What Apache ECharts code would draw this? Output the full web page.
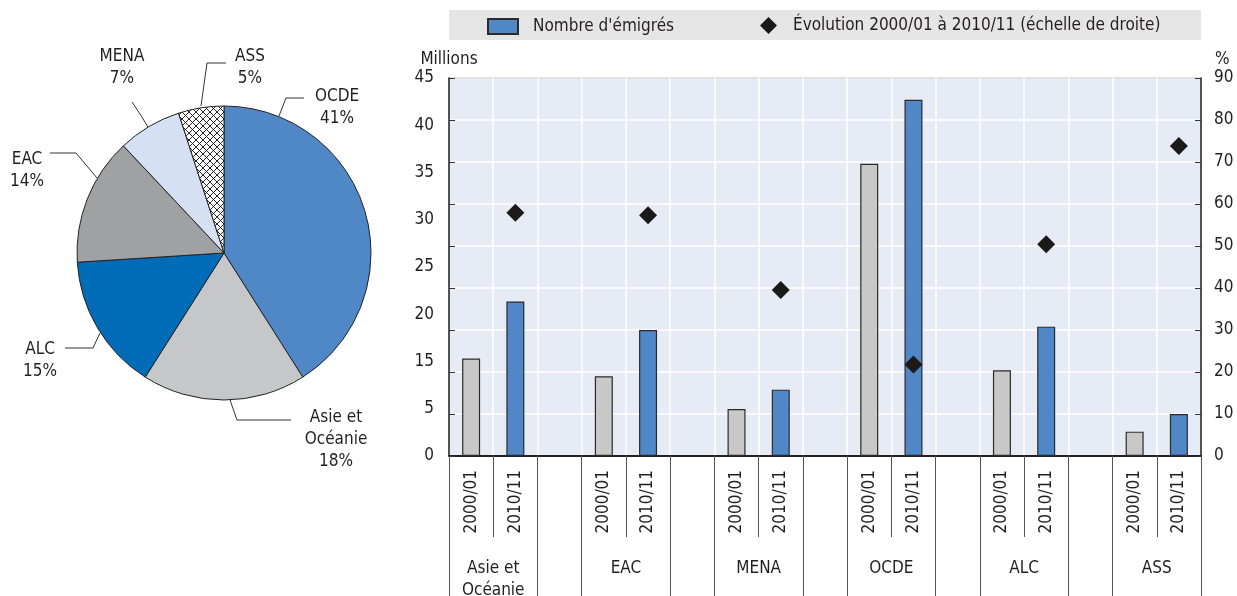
<!DOCTYPE html>
<html>
<head>
<meta charset="utf-8">
<script src="https://cdn.jsdelivr.net/npm/echarts@6/dist/echarts.min.js"></script>
<style>
html,body{margin:0;padding:0;background:#fff;}
#chart{width:1237px;height:596px;}
</style>
</head>
<body>
<div id="chart"></div>
<script>
// ---- data ----
const groups = ['Asie et Océanie', 'EAC', 'MENA', 'OCDE', 'ALC', 'ASS'];
const groupLabels = ['Asie et\nOcéanie', 'EAC', 'MENA', 'OCDE', 'ALC', 'ASS'];
const periods = ['2000/01', '2010/11'];
const emigres2000 = [11.6, 9.5, 5.6, 34.8, 10.2, 2.9];
const emigres2010 = [18.4, 15.0, 7.9, 42.4, 15.4, 5.0];
const evolution = [57.9, 57.3, 39.5, 21.8, 50.4, 73.8];
const leftTickLabels = ['0', '5', '15', '20', '25', '30', '35', '40', '45'];
const pieNames = ['OCDE', 'Asie et Océanie', 'ALC', 'EAC', 'MENA', 'ASS'];
const pieLabelText = ['OCDE', 'Asie et\nOcéanie', 'ALC', 'EAC', 'MENA', 'ASS'];
const pieShares = [41, 18, 15, 14, 7, 5];
const seriesNames = ["Nombre d'émigrés", 'Évolution 2000/01 à 2010/11 (échelle de droite)'];

// ---- styles / layout ----
const FONT = "'DejaVu Sans Condensed','Liberation Sans Narrow',sans-serif";
const FS = 17;
const TXT = '#231f20';
const BLUE = '#4f87c7';
const GREY = '#c8c8c8';
const pieColors = ['#4f87c7', '#c6c7c9', '#006bb6', '#a0a1a3', '#d5e0f2', null];
const pieLabelLayout = [
  { x: 337, y: 108, pts: [[279, 116], [286, 98], [304, 98]] },
  { x: 336, y: 440, pts: [[230, 400], [237, 420], [291, 420]] },
  { x: 40, y: 361, pts: [[100, 333], [93, 348], [65, 348]] },
  { x: 27, y: 171, pts: [[97, 178], [76, 153], [50, 153]] },
  { x: 122, y: 68, pts: [[148, 127], [140, 114], [132, 102]] },
  { x: 250, y: 68, pts: [[201, 106], [207, 63], [226, 63]] }
];

// hatch pattern
const hc = document.createElement('canvas');
hc.width = 7; hc.height = 7;
const hx = hc.getContext('2d');
hx.fillStyle = '#fff'; hx.fillRect(0, 0, 7, 7);
hx.strokeStyle = '#111'; hx.lineWidth = 0.9;
hx.beginPath(); hx.moveTo(-1, -1); hx.lineTo(8, 8); hx.moveTo(-1, 8); hx.lineTo(8, -1); hx.stroke();
const hatch = { image: hc, repeat: 'repeat' };

// ---- build ----
const slots = [], barData = [], dotData = [];
groups.forEach((g, i) => {
  slots.push(periods[0]); barData.push({ value: emigres2000[i], itemStyle: { color: GREY } }); dotData.push(null);
  slots.push(periods[1]); barData.push({ value: emigres2010[i] }); dotData.push(evolution[i]);
  if (i < groups.length - 1) { slots.push(''); barData.push(null); dotData.push(null); }
});
const halfSlots = [];
for (let k = 0; k <= slots.length * 2; k++) halfSlots.push('');
groups.forEach((g, i) => { halfSlots[6 * i + 2] = groupLabels[i]; });

const pieData = pieNames.map((n, i) => ({
  name: n, value: pieShares[i],
  itemStyle: { color: pieColors[i] || hatch }
}));

const chart = echarts.init(document.getElementById('chart'));
const option = {
  animation: false,
  textStyle: { fontFamily: FONT, color: TXT },
  graphic: [{ type: 'rect', left: 449, top: 10, shape: { width: 752, height: 30 }, style: { fill: '#e5e5e5' }, silent: true, z: -1 }],
  legend: [
    { data: [{ name: seriesNames[0], icon: 'rect' }], left: 487, top: 18, padding: 0, itemWidth: 30, itemHeight: 15,
      textStyle: { fontSize: FS, color: TXT, fontFamily: FONT, padding: [0, 0, 0, 10] } },
    { data: [seriesNames[1]], left: 760, top: 17, padding: 0, itemWidth: 17, itemHeight: 17,
      textStyle: { fontSize: FS, color: TXT, fontFamily: FONT, padding: [0, 0, 0, 11] } }
  ],
  grid: [
    { left: 449, right: 36, top: 78, bottom: 140, show: true, backgroundColor: '#e6ebf5', borderColor: '#222', borderWidth: 1 },
    { left: 449, right: 36, top: 537, height: 120, show: false }
  ],
  xAxis: [
    { type: 'category', gridIndex: 0, data: slots, boundaryGap: true,
      axisLine: { show: true, lineStyle: { color: '#222', width: 2 } },
      axisTick: { show: true, interval: 0, length: 81, lineStyle: { color: '#555', width: 1 } },
      axisLabel: { interval: 0, rotate: 90, margin: 14, fontSize: FS, color: TXT, fontFamily: FONT },
      splitLine: { show: true, interval: 0, lineStyle: { color: '#fff', width: 1.5 } }
    },
    { type: 'category', gridIndex: 1, data: halfSlots, boundaryGap: false, position: 'top',
      axisLine: { show: false }, axisTick: { show: false },
      axisLabel: { interval: 0, inside: true, margin: 21, fontSize: FS, lineHeight: 22, color: TXT, fontFamily: FONT, verticalAlign: 'top' },
      splitLine: { show: true, interval: (i) => (i % 2 === 0 && (i / 2) % 3 !== 1), lineStyle: { color: '#555', width: 1 } }
    }
  ],
  yAxis: [
    { type: 'value', gridIndex: 0, min: 0, max: 45, interval: 5, position: 'left',
      name: 'Millions', nameLocation: 'end', nameGap: 10,
      nameTextStyle: { fontSize: FS, color: TXT, fontFamily: FONT, align: 'center' },
      axisLine: { show: true, lineStyle: { color: '#222', width: 1.5 } },
      axisTick: { show: true, inside: true, length: 6, lineStyle: { color: '#333' } },
      axisLabel: { show: false },
      splitLine: { show: true, lineStyle: { color: '#fff', width: 1.5 } }
    },
    { type: 'value', gridIndex: 0, min: 0, max: 90, interval: 10, position: 'right',
      name: '%', nameLocation: 'end', nameGap: 10,
      nameTextStyle: { fontSize: FS, color: TXT, fontFamily: FONT, align: 'left', padding: [0, 0, 0, 14] },
      axisLine: { show: true, lineStyle: { color: '#222', width: 1.5 } },
      axisTick: { show: true, inside: true, length: 6, lineStyle: { color: '#333' } },
      axisLabel: { margin: 13, fontSize: FS, color: TXT, fontFamily: FONT },
      splitLine: { show: false }
    },
    { type: 'value', gridIndex: 0, min: 0, max: leftTickLabels.length - 1, interval: 1, position: 'left',
      axisLine: { show: false }, axisTick: { show: false }, splitLine: { show: false },
      axisLabel: { margin: 15, fontSize: FS, color: TXT, fontFamily: FONT, formatter: (v) => leftTickLabels[v] }
    },
    { type: 'value', gridIndex: 1, show: false }
  ],
  series: [
    { name: seriesNames[0], type: 'bar', xAxisIndex: 0, yAxisIndex: 0, data: barData, barWidth: 18,
      itemStyle: { color: BLUE, borderColor: '#2b2b2b', borderWidth: 1.2 } },
    { name: seriesNames[1], type: 'scatter', xAxisIndex: 0, yAxisIndex: 1, data: dotData,
      symbol: 'diamond', symbolSize: [18, 18], itemStyle: { color: '#1a1a1a', opacity: 1 }, z: 5 },
    { type: 'pie', center: [224, 253], radius: 147, startAngle: 90, clockwise: true,
      data: pieData, silent: true, edgeDistance: 0,
      itemStyle: { borderColor: '#222', borderWidth: 1 },
      label: { show: true, position: 'outside', overflow: 'none', width: 120, fontSize: FS, lineHeight: 22, color: TXT, fontFamily: FONT, align: 'center',
        formatter: (p) => pieLabelText[p.dataIndex] + '\n' + p.value + '%' },
      labelLine: { show: true, lineStyle: { color: '#333', width: 1 } },
      labelLayout: (p) => {
        const L = pieLabelLayout[p.dataIndex];
        return { x: L.x, y: L.y, align: 'center', verticalAlign: 'middle', labelLinePoints: L.pts };
      }
    }
  ]
};
chart.setOption(option);
</script>
</body>
</html>
